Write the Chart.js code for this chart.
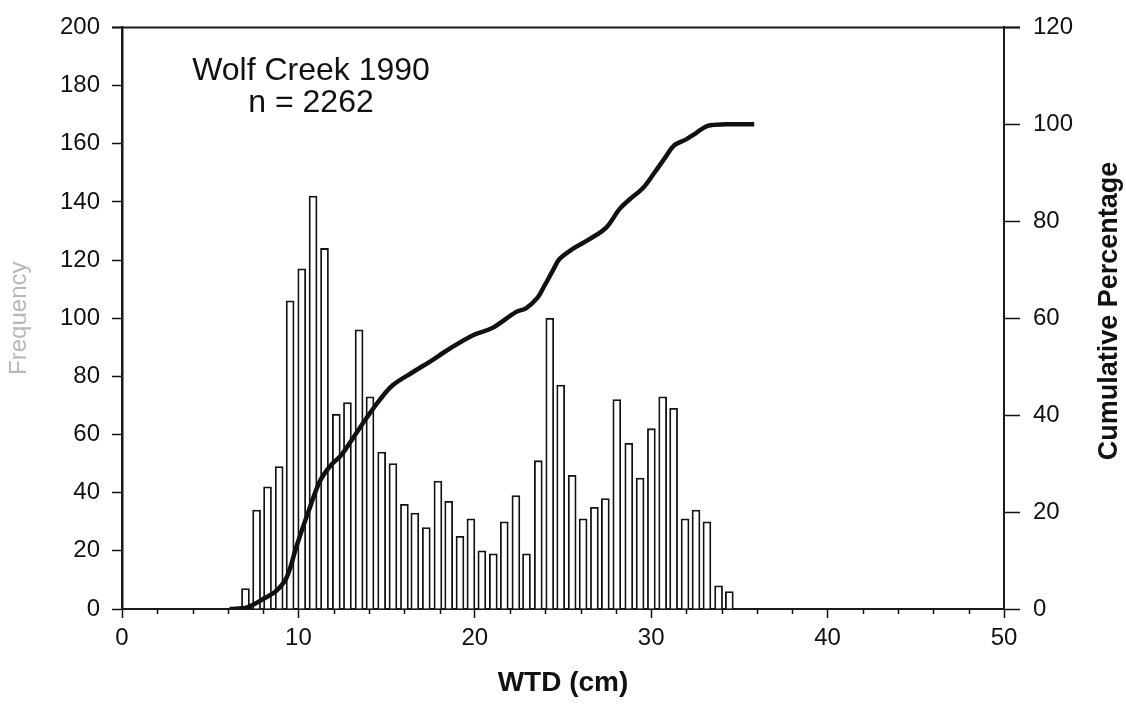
<!DOCTYPE html>
<html>
<head>
<meta charset="utf-8">
<script src="https://cdn.jsdelivr.net/npm/chart.js@4/dist/chart.umd.min.js"></script>
<style>
  html, body { margin: 0; padding: 0; background: #fff; }
  #wrap { width: 1126px; height: 705px; position: relative; }
</style>
</head>
<body>
<div id="wrap"><canvas id="c" width="1126" height="705"></canvas></div>
<script>
// ---- data ----
const binCentres = [7.0, 7.63, 8.25, 8.91, 9.53, 10.19, 10.83, 11.48, 12.15, 12.78, 13.44, 14.06, 14.72, 15.36, 16.01, 16.6,
  17.25, 17.91, 18.52, 19.16, 19.78, 20.4, 21.05, 21.67, 22.33, 22.93, 23.6, 24.25, 24.87, 25.52, 26.14, 26.78, 27.4, 28.05,
  28.73, 29.37, 30.01, 30.65, 31.27, 31.92, 32.54, 33.16, 33.82, 34.43];
const frequency = [7, 34, 42, 49, 106, 117, 142, 124, 67, 71, 96, 73, 54, 50, 36, 33,
  28, 44, 37, 25, 31, 20, 19, 30, 39, 19, 51, 100, 77, 46, 31, 35, 38, 72,
  57, 45, 62, 73, 69, 31, 34, 30, 8, 6];
const cumX = [6.1, 7.1, 8.0, 8.76, 9.33, 9.9, 10.55, 11.21, 11.78, 12.44, 13.1, 13.86, 14.6, 15.36, 16.5, 17.44, 18.57,
  19.9, 21.0, 22.35, 22.92, 23.57, 23.95, 24.42, 24.8, 25.55, 26.5, 27.45, 28.2, 28.77, 29.52, 30.18, 30.84, 31.31,
  31.98, 32.54, 33.2, 34.24, 35.84];
const cumPct = [0, 0.35, 2.05, 3.8, 6.5, 13.0, 19.9, 26.3, 29.4, 31.8, 35.3, 39.4, 43.1, 46.2, 48.9, 51.0, 53.7,
  56.5, 58.0, 61.3, 62.1, 64.3, 66.7, 69.8, 72.2, 74.3, 76.3, 78.7, 82.5, 84.5, 86.8, 90.0, 93.4, 95.7,
  96.9, 98.2, 99.7, 100, 100];
const titleLines = ['Wolf Creek 1990', 'n = 2262'];
const xTitle = 'WTD (cm)';
const yTitle = 'Frequency';
const y2Title = 'Cumulative Percentage';

const FONT = "'Liberation Sans', Arial, Helvetica, sans-serif";
const INK = '#111';

const decor = {
  id: 'decor',
  afterDraw(chart) {
    const { ctx, chartArea: a, scales } = chart;
    ctx.save();
    // top frame line
    ctx.strokeStyle = '#1a1a1a';
    ctx.lineWidth = 2;
    ctx.beginPath();
    ctx.moveTo(a.left - 10, a.top);
    ctx.lineTo(a.right + 16, a.top);
    ctx.stroke();
    // minor x ticks
    const xs = scales.x;
    ctx.lineWidth = 1.5;
    ctx.strokeStyle = INK;
    ctx.beginPath();
    for (let v = 0; v <= 50; v += 2) {
      if (v % 10 === 0) continue;
      const px = Math.round(xs.getPixelForValue(v)) + 0.5;
      ctx.moveTo(px, a.bottom);
      ctx.lineTo(px, a.bottom + 5);
    }
    ctx.stroke();
    // chart text
    ctx.fillStyle = INK;
    ctx.textAlign = 'center';
    ctx.textBaseline = 'alphabetic';
    ctx.font = '32px ' + FONT;
    ctx.fillText(titleLines[0], 311, 80);
    ctx.fillText(titleLines[1], 311, 112);
    // right-hand axis title, reading bottom to top
    ctx.translate(1110, 311);
    ctx.rotate(-Math.PI / 2);
    ctx.font = 'bold 27px ' + FONT;
    ctx.textBaseline = 'middle';
    ctx.fillText(y2Title, 0, 0);
    ctx.restore();
  }
};

new Chart(document.getElementById('c'), {
  type: 'bar',
  data: {
    datasets: [
      {
        type: 'line',
        data: cumX.map((x, i) => ({ x, y: cumPct[i] })),
        yAxisID: 'y2',
        borderColor: INK,
        borderWidth: 4.5,
        pointRadius: 0,
        tension: 0.35,
        fill: false,
        order: 0
      },
      {
        type: 'bar',
        data: binCentres.map((x, i) => ({ x, y: frequency[i] })),
        yAxisID: 'y',
        backgroundColor: '#fff',
        borderColor: INK,
        borderWidth: 1.8,
        barThickness: 8,
        order: 1
      }
    ]
  },
  options: {
    responsive: false,
    animation: false,
    events: [],
    layout: { padding: { top: 24, left: 0, right: 0, bottom: 0 } },
    plugins: { legend: { display: false }, tooltip: { enabled: false }, title: { display: false } },
    scales: {
      x: {
        type: 'linear',
        position: 'bottom',
        min: 0, max: 50,
        offset: false,
        afterFit: s => { s.height = 96; },
        ticks: {
          stepSize: 10,
          autoSkip: false,
          maxRotation: 0,
          padding: 6,
          color: INK,
          font: { family: FONT, size: 24 }
        },
        grid: { display: true, drawOnChartArea: false, offset: false, tickLength: 9, tickWidth: 1.5, tickColor: INK },
        border: { display: true, color: '#1a1a1a', width: 2 },
        title: { display: true, text: xTitle, color: INK, font: { family: FONT, size: 28, weight: 'bold' }, padding: { top: 4, bottom: 5 } }
      },
      y: {
        type: 'linear',
        position: 'left',
        min: 0, max: 200,
        afterFit: s => { s.width = 122; },
        ticks: { stepSize: 20, padding: 12, color: INK, font: { family: FONT, size: 24 } },
        grid: { display: true, drawOnChartArea: false, tickLength: 10, tickWidth: 1.5, tickColor: INK },
        border: { display: true, color: '#1a1a1a', width: 2.5 },
        title: { display: true, text: yTitle, color: '#b8b8b8', font: { family: FONT, size: 24 }, padding: { top: 5, bottom: 0 } }
      },
      y2: {
        type: 'linear',
        position: 'right',
        min: 0, max: 120,
        afterFit: s => { s.width = 122; },
        ticks: { stepSize: 20, padding: 13, color: INK, font: { family: FONT, size: 24 } },
        grid: { display: true, drawOnChartArea: false, tickLength: 16, tickWidth: 1.5, tickColor: INK },
        border: { display: true, color: '#1a1a1a', width: 2 }
      }
    }
  },
  plugins: [decor]
});
</script>
</body>
</html>
